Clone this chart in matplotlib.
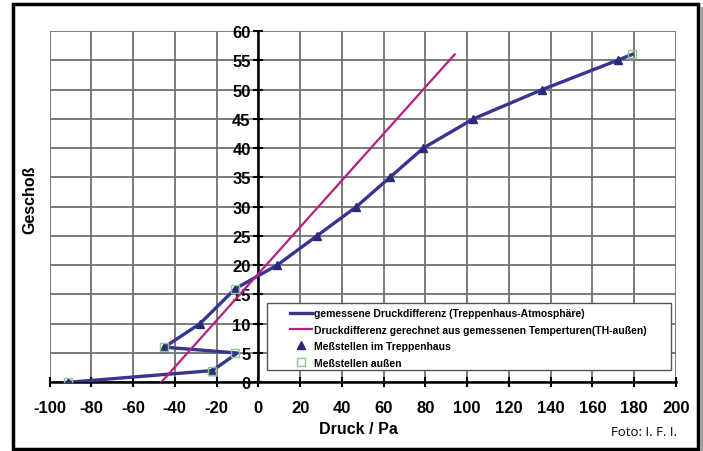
import matplotlib
matplotlib.use("Agg")
import matplotlib.pyplot as plt
from matplotlib.patches import Rectangle

# measured pressure difference per floor
floors = [0, 2, 5, 6, 10, 16, 20, 25, 30, 35, 40, 45, 50, 55, 56]
dp_meas = [-91, -22, -10, -45, -28, -11, 9, 28, 47, 63, 79, 103, 136, 172, 179]

# measuring points in stairwell (triangles)
tri_floors = [0, 2, 6, 10, 16, 20, 25, 30, 35, 40, 45, 50, 55]
tri_dp = [-91, -22, -45, -28, -11, 9, 28, 47, 63, 79, 103, 136, 172]

# measuring points outside (squares)
sq_floors = [0, 2, 5, 6, 16, 56]
sq_dp = [-91, -22, -11, -45, -11, 179]

# calculated pressure difference from temperatures
calc_floors = [0, 56]
calc_dp = [-46.5, 94]

labels = [
    "gemessene Druckdifferenz (Treppenhaus-Atmosphäre)",
    "Druckdifferenz gerechnet aus gemessenen Temperturen(TH-außen)",
    "Meßstellen im Treppenhaus",
    "Meßstellen außen",
]
xticks = list(range(-100, 201, 20))
yticks = list(range(0, 61, 5))

plt.rcParams['font.family'] = ['Liberation Sans', 'DejaVu Sans']
plt.rcParams['font.weight'] = 'bold'
plt.rcParams['axes.unicode_minus'] = False

fig = plt.figure(figsize=(7.03, 4.52), dpi=100)
ax = fig.add_axes([49.5 / 703, 1 - 383.3 / 452, 626.5 / 703, 351.3 / 452])

blue = "#36358f"
mag = "#b3207e"

ax.plot(dp_meas, floors, color=blue, lw=2.4, label=labels[0], zorder=3)
ax.plot(calc_dp, calc_floors, color=mag, lw=1.6, label=labels[1], zorder=3)
ax.plot(tri_dp, tri_floors, ls="none", marker="^", ms=6, color="#2a2a7a",
        label=labels[2], zorder=4)
ax.plot(sq_dp, sq_floors, ls="none", marker="s", ms=6, mfc="none",
        mec="#8fc88f", mew=1.0, label=labels[3], zorder=5)

ax.set_xlim(-100, 200)
ax.set_ylim(0, 60)
ax.set_xticks(xticks)
ax.set_yticks(yticks)
ax.grid(True, color="#707070", lw=1.3, zorder=0)
ax.set_axisbelow(True)

for s in ("top", "right"):
    ax.spines[s].set_visible(False)
ax.spines["left"].set_position(("data", 0))
ax.spines["bottom"].set_position(("data", 0))
ax.spines["left"].set_linewidth(1.8)
ax.spines["bottom"].set_linewidth(1.8)
ax.spines["left"].set_zorder(2)
ax.spines["bottom"].set_zorder(2)
ax.tick_params(direction="inout", length=7, width=1.5, pad=2, labelsize=12)
ax.tick_params(axis="x", pad=9)

# legend frame drawn separately (reference has wide left padding)
ax.add_patch(Rectangle((0.347, 0.035), 0.645, 0.1907, transform=ax.transAxes,
                       facecolor="white", edgecolor="#555555", lw=1.0,
                       zorder=6))
leg = ax.legend(loc="upper left", bbox_to_anchor=(0.384, 0.211),
                prop={"weight": "bold", "size": 7.5}, frameon=False,
                borderaxespad=0, borderpad=0, handlelength=2.1,
                labelspacing=0.62, handletextpad=0.15)
leg.set_zorder(7)

fig.text(358 / 703, 1 - 430 / 452, "Druck / Pa", ha="center", va="center",
         fontsize=11.5, fontweight="bold")
fig.text(30 / 703, 1 - 200 / 452, "Geschoß", ha="center", va="center",
         rotation=90, fontsize=11.5, fontweight="bold")
fig.text(677 / 703, 1 - 433 / 452, "Foto: I. F. I.", ha="right", va="center",
         fontsize=9.5, fontweight="normal", family=["Open Sans", "DejaVu Sans"])

fig.add_artist(Rectangle((12.5 / 703, 1 - 450 / 452), 685 / 703, 445 / 452,
                         transform=fig.transFigure, fill=False,
                         edgecolor="black", lw=2.5))
fig.add_artist(Rectangle((700 / 703, 0), 3 / 703, 1 - 8 / 452,
                         transform=fig.transFigure, facecolor="#a0a0a0",
                         edgecolor="none"))

fig.savefig("out.png", dpi=100)
